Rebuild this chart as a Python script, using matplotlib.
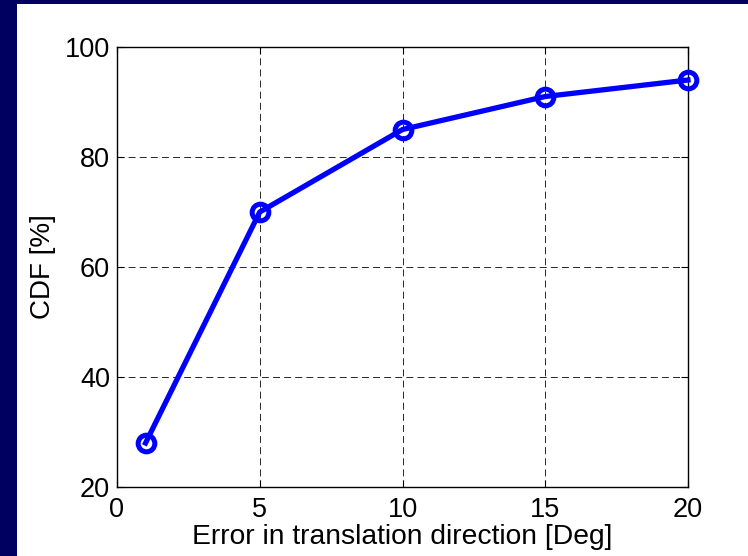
import matplotlib.pyplot as plt
from matplotlib.patches import Rectangle

# CDF of the translation-direction error
err_deg = [1, 5, 10, 15, 20]
cdf_pct = [28, 70, 85, 91, 94]
xticks = [0, 5, 10, 15, 20]
yticks = [20, 40, 60, 80, 100]

plt.rcParams["font.family"] = ["Liberation Sans", "DejaVu Sans"]
plt.rcParams["lines.scale_dashes"] = False

fig = plt.figure(figsize=(7.48, 5.56), dpi=100)
fig.patch.set_facecolor("white")

# slide-style navy frame on the left and top
navy = "#000060"
fig.patches.append(Rectangle((0, 0), 17 / 748, 1, transform=fig.transFigure,
                             facecolor=navy, edgecolor="none", zorder=0))
fig.patches.append(Rectangle((0, 1 - 4 / 556), 1, 4 / 556, transform=fig.transFigure,
                             facecolor=navy, edgecolor="none", zorder=0))

ax = fig.add_axes([117 / 748, 69 / 556, 571 / 748, 440 / 556])
ax.plot(err_deg, cdf_pct, color="#0000ff", linewidth=3.8, marker="o",
        markersize=12, markerfacecolor="none", markeredgewidth=3.6, zorder=3,
        clip_on=False)

ax.set_xlim(0, 20)
ax.set_ylim(20, 100)
ax.set_xticks(xticks)
ax.set_yticks(yticks)
ax.tick_params(direction="in", length=5, width=0.8, labelsize=19.5, pad=5,
               top=True, right=True)
ax.tick_params(axis="x", pad=7)
ax.grid(True, color="black", linestyle=(0, (5, 3)), linewidth=0.7, alpha=0.85)
for s in ax.spines.values():
    s.set_linewidth(1.0)

ax.set_xlabel("Error in translation direction [Deg]", fontsize=20.3, labelpad=1)
ax.set_ylabel("CDF [%]", fontsize=20, labelpad=6)

fig.savefig("out.png", dpi=100)
